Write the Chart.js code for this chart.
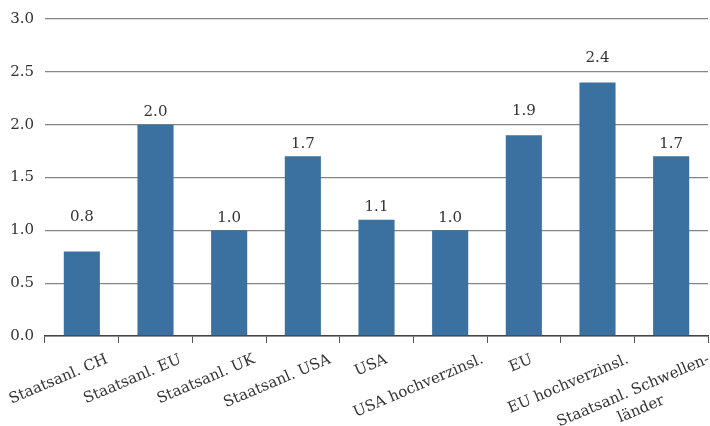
<!DOCTYPE html>
<html>
<head>
<meta charset="utf-8">
<script src="https://cdn.jsdelivr.net/npm/chart.js@4/dist/chart.umd.min.js"></script>
<style>
  html, body { margin: 0; padding: 0; background: #fff; }
  #wrap { width: 710px; height: 426px; }
</style>
</head>
<body>
<div id="wrap"><canvas id="myChart" width="710" height="426"></canvas></div>
<script>
// Kategorien und Werte
const categories = [
    'Staatsanl. CH',
    'Staatsanl. EU',
    'Staatsanl. UK',
    'Staatsanl. USA',
    'USA',
    'USA hochverzinsl.',
    'EU',
    'EU hochverzinsl.',
    ['Staatsanl. Schwellen-', 'länder']
];
const values = [0.8, 2.0, 1.0, 1.7, 1.1, 1.0, 1.9, 2.4, 1.7];
const yTicks = [0, 0.5, 1.0, 1.5, 2.0, 2.5, 3.0];

const fontFamily = '"DejaVu Serif", "Liberation Serif", serif';
const labelAngle = 23 * Math.PI / 180;

// Werte über den Balken anzeigen; rutscht ein Wert in eine Gitterlinie,
// wird er über die Linie gesetzt
const valueLabels = {
    id: 'valueLabels',
    afterDatasetsDraw(chart) {
        const c = chart.ctx;
        const meta = chart.getDatasetMeta(0);
        const ys = chart.scales.y;
        const grid = yTicks.map(v => ys.getPixelForValue(v));
        c.save();
        c.font = '15px ' + fontFamily;
        c.fillStyle = '#333';
        c.textAlign = 'center';
        c.textBaseline = 'bottom';
        meta.data.forEach((bar, i) => {
            let bottom = bar.y - 5;
            const top = bottom - 12;
            grid.forEach(g => {
                if (g < bar.y - 1 && g >= top - 6 && g < bottom + 1) bottom = g - 6;
            });
            c.fillText(values[i].toFixed(1), bar.x, bottom);
        });
        c.restore();
    }
};

// schräge Achsenbeschriftung, etwas nach rechts versetzt wie in der Vorlage
const slantedLabels = {
    id: 'slantedLabels',
    afterDraw(chart) {
        const c = chart.ctx;
        const xs = chart.scales.x;
        c.save();
        c.font = '15px ' + fontFamily;
        c.fillStyle = '#333';
        c.textBaseline = 'top';
        c.textAlign = 'center';
        categories.forEach((lab, i) => {
            const lines = Array.isArray(lab) ? lab : [lab];
            const w = Math.max(...lines.map(l => c.measureText(l).width));
            const cx = xs.getPixelForTick(i);
            const ax = cx + 0.23 * w * Math.cos(labelAngle);
            const ay = xs.top + 16;
            c.save();
            c.translate(ax, ay);
            c.rotate(-labelAngle);
            lines.forEach((l, k) => c.fillText(l, -w / 2, k * 20));
            c.restore();
        });
        c.restore();
    }
};

document.addEventListener('DOMContentLoaded', function() {
    const ctx = document.getElementById('myChart');

    new Chart(ctx, {
        type: 'bar',
        data: {
            labels: categories,
            datasets: [{
                data: values,
                backgroundColor: '#3a71a0',
                borderWidth: 0,
                categoryPercentage: 1.0,
                barPercentage: 0.49
            }]
        },
        options: {
            responsive: false,
            animation: false,
            layout: { padding: { top: 19, right: 2, left: 0, bottom: 0 } },
            plugins: {
                legend: { display: false },
                tooltip: { enabled: false }
            },
            scales: {
                x: {
                    offset: true,
                    afterFit(scale) {
                        scale.height = 90;
                        scale.paddingLeft = 0;
                        scale.paddingRight = 0;
                    },
                    grid: {
                        offset: true,
                        drawOnChartArea: false,
                        drawTicks: true,
                        tickLength: 7,
                        color: '#555',
                        lineWidth: 1
                    },
                    border: { display: true, color: '#444', width: 1.5 },
                    ticks: { display: false }
                },
                y: {
                    min: 0,
                    max: 3.0,
                    afterBuildTicks(scale) {
                        scale.ticks = yTicks.map(v => ({ value: v }));
                    },
                    afterFit(scale) {
                        scale.width = 45;
                        scale.paddingTop = 0;
                        scale.paddingBottom = 0;
                    },
                    grid: {
                        drawTicks: false,
                        color: '#858585',
                        lineWidth: 1.3
                    },
                    border: { display: false },
                    ticks: {
                        padding: 11,
                        color: '#333',
                        font: { family: fontFamily, size: 15 },
                        callback: v => Number(v).toFixed(1)
                    }
                }
            }
        },
        plugins: [valueLabels, slantedLabels]
    });
});
</script>
</body>
</html>
